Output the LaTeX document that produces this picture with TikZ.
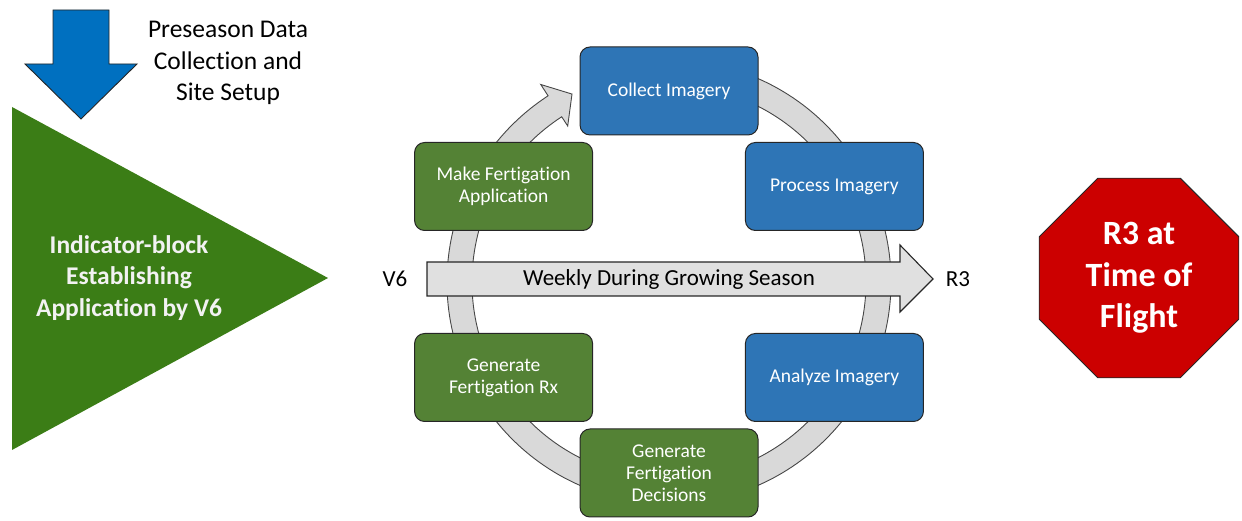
\documentclass[tikz,border=0pt]{standalone}
\usepackage{fontspec}
\setmainfont{Carlito}[Ligatures=NoCommon]
\usetikzlibrary{calc,positioning,shapes.geometric}
\definecolor{Ink}{HTML}{262626}
\definecolor{Ring}{HTML}{D9D9D9}
\definecolor{Band}{HTML}{E0E0E0}
\definecolor{BoxBlue}{HTML}{2E75B6}
\definecolor{BoxGreen}{HTML}{548235}
\definecolor{Leaf}{HTML}{3B7D16}
\definecolor{Drop}{HTML}{0070C0}
\definecolor{Stop}{HTML}{CC0000}
\tikzset{
  stagebox/.style={draw=Ink,line width=1pt,rounded corners=10pt,minimum width=178pt,minimum height=88pt,
    align=center,text=white,inner sep=2pt,font=\fontsize{19.5}{22}\selectfont},
  plain/.style={text=black,align=center,font=\fontsize{23}{28}\selectfont}
}
\begin{document}
\begin{tikzpicture}[x=1pt,y=1pt]
        \useasboundingbox(0,0)rectangle(1242,521);
        \coordinate(c)at(669,239);
        % ring with head
        \filldraw[fill=Ring,draw=Ink!85,line width=.9pt]($(c)+(80:222)$)arc[start angle=80,end angle=-237,radius=222]
          --($(c)+(123:235.5)$)--($(c)+(117.3:211.5)$)--($(c)+(123:186)$)--($(c)+(123:197)$)
          arc[start angle=-237,end angle=80,radius=197]--cycle;
        \node[stagebox,fill=BoxBlue](collect)at($(c)+(90:191)$){Collect Imagery};
        \node[stagebox,fill=BoxBlue](process)at($(c)+(30:191)$){Process Imagery};
        \node[stagebox,fill=BoxBlue](analyze)at($(c)+(-30:191)$){Analyze Imagery};
        \node[stagebox,fill=BoxGreen](decide)at($(c)+(-90:191)$){Generate\\Fertigation\\Decisions};
        \node[stagebox,fill=BoxGreen](rx)at($(c)+(-150:191)$){Generate\\Fertigation Rx};
        \node[stagebox,fill=BoxGreen](apply)at($(c)+(150:191)$){Make Fertigation\\Application};
        % season band
        \filldraw[fill=Band,draw=Ink,line width=1.1pt](427,225)--(900,225)--(900,209)--(933,242)
          --(900,276)--(900,259)--(427,259)--cycle;
        \node[plain](season)at(669,242){Weekly During Growing Season};
        \node[plain](v6)at(395,242){V6};
        \node[plain](r3)at(958,242){R3};
        % left side
        \filldraw[fill=Drop,draw=Ink,line width=.9pt](53,511)--(109,511)--(109,457)--(137,457)
          --(81,402)--(25,457)--(53,457)--cycle;
        \node[plain,font=\fontsize{25.5}{31.5}\selectfont](pre)at(228,458){Preseason Data\\Collection and\\Site Setup};
        \fill[Leaf](12,414)--(328,243)--(12,71)--cycle;
        \node[align=center,text=white!95!black,font=\bfseries\fontsize{25.5}{31.5}\selectfont](block)at(129,243)
          {Indicator-block\\Establishing\\Application by V6};
        \node[regular polygon,regular polygon sides=8,minimum size=216pt,inner sep=0pt,fill=Stop,draw=Ink,
          line width=.9pt,text=white,align=center,font=\bfseries\fontsize{34}{41.5}\selectfont](stop)at(1139,243)
          {R3 at\\Time of\\Flight};
      \end{tikzpicture}
\end{document}
